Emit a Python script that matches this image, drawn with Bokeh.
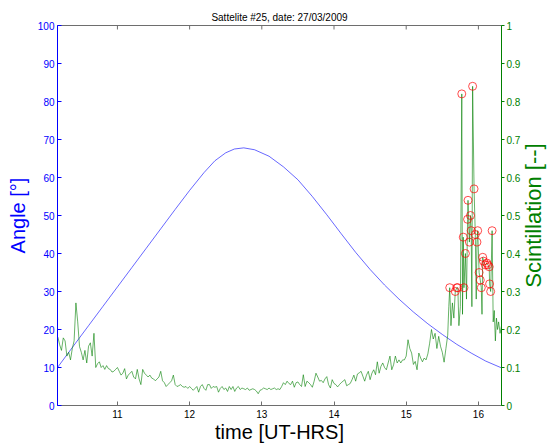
from bokeh.plotting import figure
from bokeh.layouts import row
from bokeh.models import Range1d, LinearAxis, FixedTicker
from bokeh.embed import file_html
from bokeh.resources import INLINE

# ---------------- data ----------------
title_text = "Sattelite #25, date: 27/03/2009"
x_label = "time [UT-HRS]"
left_label = "Angle [°]"
right_label = "Scintillation [--]"
x_ticks = [11, 12, 13, 14, 15, 16]
angle_ticks = [0, 10, 20, 30, 40, 50, 60, 70, 80, 90, 100]
scint_ticks = [0, 0.1, 0.2, 0.3, 0.4, 0.5, 0.6, 0.7, 0.8, 0.9, 1]

# satellite elevation angle [deg]
angle_t = [10.17, 10.4, 10.6, 10.8, 11.0, 11.2, 11.4, 11.6, 11.8, 12.0, 12.2,
           12.35, 12.5, 12.62, 12.75, 12.9, 13.1, 13.3, 13.5, 13.7, 13.9, 14.1,
           14.3, 14.5, 14.7, 14.9, 15.1, 15.3, 15.5, 15.7, 15.9, 16.1, 16.32]
angle_v = [10.0, 15.9, 21.0, 26.1, 31.2, 36.3, 41.4, 46.5, 51.6, 56.6, 61.3,
           64.4, 66.5, 67.5, 67.8, 67.3, 65.6, 62.8, 59.4, 55.0, 50.2, 45.2,
           40.3, 35.8, 31.7, 28.0, 24.6, 21.5, 18.7, 16.1, 13.8, 11.7, 9.9]

# scintillation index, quiet part (sampled every 0.025 h from 10.175 h)
quiet_start = 10.175
quiet_step = 0.025
quiet_s = [
    0.18, 0.16, 0.145, 0.178, 0.17, 0.13, 0.14, 0.12, 0.15, 0.17, 0.27, 0.22,
    0.155, 0.14, 0.12, 0.145, 0.112, 0.156, 0.165, 0.13, 0.19, 0.10, 0.11, 0.115,
    0.10, 0.105, 0.095, 0.105, 0.097, 0.095, 0.088, 0.09, 0.095, 0.10, 0.09, 0.08,
    0.085, 0.097, 0.07, 0.08, 0.085, 0.09, 0.075, 0.07, 0.095, 0.07, 0.055, 0.095,
    0.085, 0.08, 0.075, 0.08, 0.072, 0.07, 0.065, 0.07, 0.075, 0.09, 0.065, 0.06,
    0.05, 0.055, 0.06, 0.065, 0.08, 0.055, 0.05, 0.052, 0.055, 0.05, 0.048, 0.05,
    0.045, 0.05, 0.045, 0.04, 0.045, 0.05, 0.035, 0.05, 0.055, 0.045, 0.04, 0.055,
    0.055, 0.045, 0.05, 0.048, 0.05, 0.035, 0.045, 0.05, 0.042, 0.046, 0.037, 0.05,
    0.042, 0.05, 0.037, 0.046, 0.05, 0.042, 0.046, 0.044, 0.042, 0.046, 0.04, 0.042,
    0.044, 0.042, 0.038, 0.031, 0.04, 0.042, 0.046, 0.044, 0.042, 0.046, 0.042, 0.044,
    0.046, 0.042, 0.044, 0.042, 0.05, 0.06, 0.055, 0.064, 0.058, 0.055, 0.064, 0.048,
    0.06, 0.062, 0.055, 0.05, 0.081, 0.05, 0.064, 0.06, 0.055, 0.048, 0.064, 0.085,
    0.075, 0.064, 0.066, 0.06, 0.07, 0.076, 0.055, 0.046, 0.068, 0.058, 0.055, 0.049,
    0.055, 0.06, 0.064, 0.068, 0.052, 0.055, 0.058, 0.068, 0.08, 0.064, 0.083, 0.086,
    0.09, 0.077, 0.064, 0.08, 0.09, 0.068, 0.085, 0.094, 0.081, 0.115, 0.085, 0.103,
    0.112, 0.10, 0.094, 0.112, 0.13, 0.094, 0.107, 0.13, 0.112, 0.12, 0.112, 0.12,
    0.12, 0.13, 0.173, 0.15, 0.138, 0.108, 0.116, 0.094, 0.138, 0.125, 0.115, 0.125,
    0.12, 0.136, 0.164, 0.2, 0.175, 0.19, 0.15, 0.182, 0.156, 0.14, 0.114, 0.15,
    0.185,
]

# scintillation index, active part at the end of the pass
spike_t = [15.59, 15.603, 15.62, 15.64, 15.66, 15.68, 15.70, 15.715, 15.73, 15.75,
           15.77, 15.78, 15.79, 15.80, 15.82, 15.835, 15.85, 15.856, 15.875, 15.89,
           15.90, 15.91, 15.92, 15.94, 15.957, 15.97, 15.98, 15.99, 16.01, 16.026,
           16.04, 16.05, 16.06, 16.07, 16.095, 16.117, 16.13, 16.15, 16.155, 16.17,
           16.19, 16.205, 16.22, 16.235, 16.25, 16.265, 16.28, 16.30, 16.32]
spike_s = [0.26, 0.31, 0.21, 0.27, 0.23, 0.30, 0.31, 0.31, 0.21, 0.26,
           0.82, 0.24, 0.443, 0.31, 0.40, 0.28, 0.49, 0.54, 0.43, 0.50,
           0.46, 0.26, 0.84, 0.57, 0.45, 0.28, 0.43, 0.46, 0.35, 0.33,
           0.31, 0.24, 0.39, 0.38, 0.37, 0.375, 0.37, 0.365, 0.32, 0.30,
           0.46, 0.22, 0.25, 0.17, 0.23, 0.20, 0.22, 0.19, 0.21]

threshold = 0.3

# ---------------- assemble ----------------
quiet_t = [round(quiet_start + quiet_step * i, 4) for i in range(len(quiet_s))]
sc_t = quiet_t + spike_t
sc_v = quiet_s + spike_s
hi_t = [t for t, v in zip(sc_t, sc_v) if v >= threshold]
hi_v = [v for v in sc_v if v >= threshold]

FONT = "Liberation Sans"
BLUE = "#0000ff"
GREEN = "#008000"
GREY = "#6e6e6e"

X0, X1 = 10.17, 16.32
A0, A1 = 0, 100

p = figure(width=523, height=445,
           x_range=Range1d(X0, X1), y_range=Range1d(A0, A1),
           output_backend="svg", toolbar_location=None,
           min_border_left=57, min_border_right=20,
           min_border_top=25, min_border_bottom=39,
           background_fill_color="white", border_fill_color="white")
p.extra_y_ranges = {"sc": Range1d(0, 1)}
p.xgrid.visible = False
p.ygrid.visible = False
p.outline_line_color = GREY
p.outline_line_width = 1

p.title.text = title_text
p.title.align = "center"
p.title.text_font = FONT
p.title.text_font_size = "10px"
p.title.text_font_style = "normal"
p.title.text_color = "black"
p.title.standoff = 6

# bottom axis
xa = p.xaxis[0]
xa.ticker = FixedTicker(ticks=x_ticks)
xa.axis_label = x_label
xa.axis_label_text_font = FONT
xa.axis_label_text_font_size = "20px"
xa.axis_label_text_font_style = "normal"
xa.axis_label_text_color = "black"
xa.axis_label_standoff = 0
xa.major_label_text_font = FONT
xa.major_label_text_font_size = "10px"
xa.major_label_text_color = "black"
xa.major_label_standoff = 4
xa.axis_line_color = GREY
xa.major_tick_line_color = GREY
xa.major_tick_in = 4
xa.major_tick_out = 0
xa.minor_tick_line_color = None

# left axis (angle)
ya = p.yaxis[0]
ya.ticker = FixedTicker(ticks=angle_ticks)
ya.axis_label = left_label
ya.axis_label_text_font = FONT
ya.axis_label_text_font_size = "20px"
ya.axis_label_text_font_style = "normal"
ya.axis_label_text_color = BLUE
ya.axis_label_standoff = 6
ya.major_label_text_font = FONT
ya.major_label_text_font_size = "10px"
ya.major_label_text_color = BLUE
ya.major_label_standoff = 3
ya.axis_line_color = BLUE
ya.major_tick_line_color = BLUE
ya.major_tick_in = 4
ya.major_tick_out = 0
ya.minor_tick_line_color = None

# right axis (scintillation) - ticks and tick labels
ra = LinearAxis(y_range_name="sc", ticker=FixedTicker(ticks=scint_ticks))
ra.major_label_overrides = {0: "0", 1: "1"}
ra.major_label_text_font = FONT
ra.major_label_text_font_size = "10px"
ra.major_label_text_color = GREEN
ra.major_label_standoff = 2
ra.axis_line_color = GREEN
ra.major_tick_line_color = GREEN
ra.major_tick_in = 0
ra.major_tick_out = 3
ra.minor_tick_line_color = None
p.add_layout(ra, "right")

# top frame ticks (box style), at the x tick positions
tick_len = 4 * (A1 - A0) / 381
p.segment(x0=x_ticks, y0=[A1] * len(x_ticks), x1=x_ticks,
          y1=[A1 - tick_len] * len(x_ticks), line_color=GREY, line_width=1)

# glyphs
p.line(angle_t, angle_v, line_color=BLUE, line_width=0.6)
p.line(sc_t, sc_v, line_color=GREEN, line_width=0.6, y_range_name="sc")
p.scatter(hi_t, hi_v, marker="circle", size=8, fill_color=None,
          line_color="red", line_width=0.7, y_range_name="sc")

# narrow strip carrying the right-hand axis title (reads bottom-to-top)
p2 = figure(width=26, height=445, x_range=Range1d(0, 1), y_range=Range1d(0, 1),
            output_backend="svg", toolbar_location=None,
            min_border_left=0, min_border_right=0,
            min_border_top=25, min_border_bottom=39,
            background_fill_color=None, border_fill_color=None,
            margin=(0, 0, 0, -4))
p2.outline_line_color = None
p2.xgrid.visible = False
p2.ygrid.visible = False
p2.xaxis.visible = False
ya2 = p2.yaxis[0]
ya2.ticker = FixedTicker(ticks=[])
ya2.axis_line_color = None
ya2.major_tick_line_color = None
ya2.minor_tick_line_color = None
ya2.axis_label = right_label
ya2.axis_label_text_font = FONT
ya2.axis_label_text_font_size = "22px"
ya2.axis_label_text_font_style = "normal"
ya2.axis_label_text_color = GREEN
ya2.axis_label_standoff = 0

layout = row(p, p2)
open("out.html", "w").write(file_html(layout, INLINE))
